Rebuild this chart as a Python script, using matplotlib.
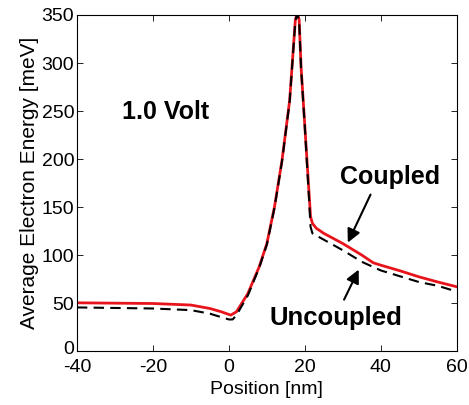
import matplotlib
matplotlib.use("Agg")
import matplotlib.pyplot as plt
import matplotlib.transforms as mtransforms

plt.rcParams['font.family'] = ['Liberation Sans', 'DejaVu Sans']
plt.rcParams['axes.unicode_minus'] = False

# Coupled (red solid)
x_coupled = [-40, -20, -10, -5, -2, 0.5, 2, 5, 8, 10, 12, 14, 16, 17, 17.5, 18, 18.5, 19, 20, 21, 21.5, 22, 23, 25, 30, 35, 38, 40, 45, 50, 55, 60]
y_coupled = [50.3, 49.6, 48, 44.4, 41, 37.5, 41, 60, 88, 112, 150, 199, 261, 317, 345, 352, 345, 296, 234, 171, 140, 133, 128, 122.6, 112, 100, 92, 89.5, 83.7, 77.4, 72, 67]

# Uncoupled (black dashed)
x_uncoupled = [-40, -20, -10, -5, 0, 1, 2, 5, 8, 10, 12, 14, 16, 17, 17.5, 18, 18.5, 19, 20, 21, 21.5, 22, 25, 30, 35, 40, 45, 50, 55, 60]
y_uncoupled = [45.5, 44.4, 42.7, 39, 33, 33, 37.5, 58, 87, 111, 149, 198, 260, 316, 344, 351, 344, 295, 233, 165, 129.5, 122.6, 116, 105, 93, 84, 78, 72, 68, 62]

x_ticks = [-40, -20, 0, 20, 40, 60]
y_ticks = [0, 50, 100, 150, 200, 250, 300, 350]

fig = plt.figure(figsize=(4.69, 4.05), dpi=100)
ax = fig.add_axes([0.164, 0.133, 0.81, 0.83])

ax.plot(x_coupled, y_coupled, color='#e8141b', lw=2.0, solid_joinstyle='round')
ax.plot(x_uncoupled, y_uncoupled, color='black', lw=1.5, ls=(0, (5, 3)))

ax.set_xlim(-40, 60)
ax.set_ylim(0, 350)
ax.set_xticks(x_ticks)
ax.set_yticks(y_ticks)
ax.tick_params(direction='in', top=True, right=True, labelsize=14, length=4, width=0.6)
ax.tick_params(axis='x', pad=6)
ax.tick_params(axis='y', pad=2)
for s in ax.spines.values():
    s.set_linewidth(0.8)

# nudge the "0" y tick label up slightly so it does not collide with "-40"
fig.canvas.draw()
zero_lbl = ax.get_yticklabels()[0]
zero_lbl.set_transform(zero_lbl.get_transform() +
                       mtransforms.ScaledTranslation(0, 4 / 100, fig.dpi_scale_trans))

ax.set_xlabel('Position [nm]', fontsize=14, labelpad=3)
ax.set_ylabel('Average Electron Energy [meV]', fontsize=15, labelpad=2)

ax.text(-16.6, 249, '1.0 Volt', fontsize=18, fontweight='bold', ha='center', va='center')
ax.text(42.4, 181, 'Coupled', fontsize=18, fontweight='bold', ha='center', va='center')
ax.text(28.2, 34, 'Uncoupled', fontsize=18.5, fontweight='bold', ha='center', va='center')

ax.annotate('', xy=(31.0, 110.4), xytext=(37.6, 165.6),
            arrowprops=dict(arrowstyle='-|>', color='black', lw=1.5, mutation_scale=20))
ax.annotate('', xy=(34.5, 87.5), xytext=(30.0, 51),
            arrowprops=dict(arrowstyle='-|>', color='black', lw=1.5, mutation_scale=20))

fig.savefig('out.png', dpi=100)
